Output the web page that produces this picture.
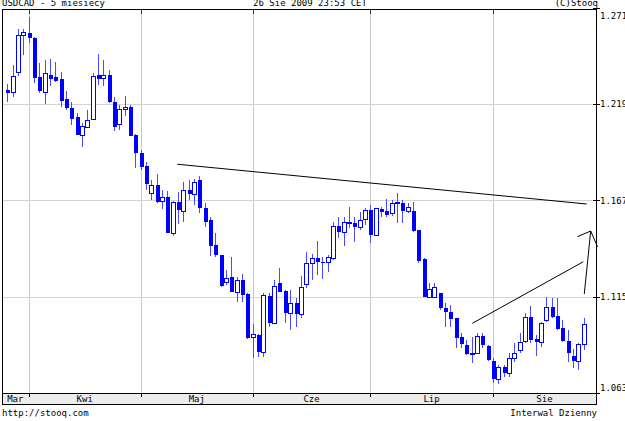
<!DOCTYPE html>
<html>
<head>
<meta charset="utf-8">
<script src="https://cdn.jsdelivr.net/npm/d3@7"></script>
<style>
  html, body { margin: 0; padding: 0; background: #fff; }
  svg { display: block; font-family: 'DejaVu Sans Mono', monospace; }
</style>
</head>
<body>
<div id="chart"></div>
<script>
// trading days, one list per month (2009)
const marDays = [26, 27, 30, 31];
const aprDays = [1, 2, 3, 6, 7, 8, 9, 13, 14, 15, 16, 17, 20, 21, 22, 23, 24, 27, 28, 29, 30];
const mayDays = [1, 4, 5, 6, 7, 8, 11, 12, 13, 14, 15, 18, 19, 20, 21, 22, 25, 26, 27, 28, 29];
const junDays = [1, 2, 3, 4, 5, 8, 9, 10, 11, 12, 15, 16, 17, 18, 19, 22, 23, 24, 25, 26, 29, 30];
const julDays = [1, 2, 3, 6, 7, 8, 9, 10, 13, 14, 15, 16, 17, 20, 21, 22, 23, 24, 27, 28, 29, 30, 31];
const augDays = [3, 4, 5, 6, 7, 10, 11, 12, 13, 14, 17, 18, 19, 20, 21, 24, 25, 26];

const monthLabels = ['Mar', 'Kwi', 'Maj', 'Cze', 'Lip', 'Sie'];
const yTicks = [1.063, 1.115, 1.167, 1.219, 1.271];

const openValues = [
  1.2268, 1.2257, 1.2366, 1.2563, 1.2577, 1.2549, 1.2338, 1.2255, 1.2350, 1.2338,
  1.2327, 1.2219, 1.2170, 1.2120, 1.2026, 1.2069, 1.2109, 1.2347, 1.2331, 1.2347,
  1.2203, 1.2082, 1.2163, 1.2177, 1.2023, 1.1925, 1.1857, 1.1712, 1.1754, 1.1669,
  1.1688, 1.1493, 1.1664, 1.1615, 1.1727, 1.1704, 1.1781, 1.1631, 1.1565, 1.1430,
  1.1376, 1.1228, 1.1255, 1.1177, 1.1241, 1.1165, 1.0931, 1.0943, 1.0853, 1.1156,
  1.1010, 1.1223, 1.1181, 1.1061, 1.1115, 1.1055, 1.1219, 1.1331, 1.1358, 1.1339,
  1.1336, 1.1358, 1.1534, 1.1502, 1.1550, 1.1550, 1.1525, 1.1569, 1.1619, 1.1484,
  1.1624, 1.1615, 1.1601, 1.1655, 1.1658, 1.1615, 1.1615, 1.1511, 1.1352, 1.1150,
  1.1150, 1.1169, 1.1088, 1.1069, 1.1034, 1.0934, 1.0889, 1.0842, 1.0844, 1.0938,
  1.0884, 1.0804, 1.0704, 1.0772, 1.0739, 1.0817, 1.0862, 1.0912, 1.1042, 1.0920,
  1.0907, 1.1024, 1.1096, 1.1046, 1.0979, 1.0912, 1.0831, 1.0804, 1.0895
];
const highValues = [
  1.2300, 1.2403, 1.2597, 1.2597, 1.2661, 1.2554, 1.2414, 1.2430, 1.2435, 1.2421,
  1.2366, 1.2264, 1.2204, 1.2145, 1.2091, 1.2159, 1.2359, 1.2462, 1.2430, 1.2376,
  1.2231, 1.2186, 1.2235, 1.2184, 1.2027, 1.1943, 1.1878, 1.1781, 1.1814, 1.1727,
  1.1723, 1.1670, 1.1718, 1.1769, 1.1781, 1.1785, 1.1804, 1.1655, 1.1583, 1.1493,
  1.1378, 1.1295, 1.1366, 1.1258, 1.1273, 1.1170, 1.1003, 1.0946, 1.1169, 1.1169,
  1.1241, 1.1304, 1.1186, 1.1186, 1.1142, 1.1262, 1.1389, 1.1381, 1.1453, 1.1366,
  1.1376, 1.1556, 1.1579, 1.1579, 1.1637, 1.1583, 1.1610, 1.1628, 1.1646, 1.1632,
  1.1637, 1.1677, 1.1673, 1.1712, 1.1673, 1.1658, 1.1664, 1.1513, 1.1358, 1.1223,
  1.1223, 1.1172, 1.1115, 1.1105, 1.1035, 1.0952, 1.0916, 1.0934, 1.0956, 1.0952,
  1.0889, 1.0817, 1.0781, 1.0781, 1.0844, 1.0902, 1.0956, 1.1064, 1.1100, 1.0943,
  1.1015, 1.1147, 1.1142, 1.1142, 1.1024, 1.0970, 1.0866, 1.0898, 1.1034
];
const lowValues = [
  1.2204, 1.2231, 1.2343, 1.2457, 1.2520, 1.2304, 1.2250, 1.2192, 1.2291, 1.2313,
  1.2177, 1.2159, 1.2078, 1.2022, 1.1961, 1.2065, 1.2103, 1.2295, 1.2289, 1.2197,
  1.2047, 1.2051, 1.2127, 1.2016, 1.1846, 1.1835, 1.1727, 1.1673, 1.1659, 1.1623,
  1.1492, 1.1480, 1.1543, 1.1556, 1.1673, 1.1646, 1.1604, 1.1525, 1.1370, 1.1366,
  1.1204, 1.1214, 1.1173, 1.1120, 1.1123, 1.0922, 1.0817, 1.0826, 1.0826, 1.0988,
  1.1005, 1.1173, 1.1010, 1.0970, 1.0988, 1.1034, 1.1196, 1.1241, 1.1268, 1.1244,
  1.1285, 1.1349, 1.1466, 1.1424, 1.1520, 1.1448, 1.1511, 1.1538, 1.1442, 1.1478,
  1.1583, 1.1583, 1.1586, 1.1550, 1.1550, 1.1601, 1.1502, 1.1334, 1.1147, 1.1142,
  1.1142, 1.1078, 1.0988, 1.0988, 1.0871, 1.0871, 1.0835, 1.0790, 1.0840, 1.0871,
  1.0804, 1.0685, 1.0678, 1.0718, 1.0715, 1.0799, 1.0848, 1.0902, 1.0898, 1.0830,
  1.0880, 1.1015, 1.1034, 1.0970, 1.0907, 1.0799, 1.0763, 1.0754, 1.0862
];
const closeValues = [
  1.2253, 1.2343, 1.2565, 1.2579, 1.2547, 1.2334, 1.2261, 1.2358, 1.2327, 1.2318,
  1.2210, 1.2172, 1.2109, 1.2026, 1.2073, 1.2105, 1.2343, 1.2325, 1.2347, 1.2203,
  1.2069, 1.2165, 1.2174, 1.2020, 1.1925, 1.1853, 1.1759, 1.1754, 1.1664, 1.1688,
  1.1496, 1.1664, 1.1619, 1.1727, 1.1704, 1.1769, 1.1628, 1.1556, 1.1426, 1.1376,
  1.1208, 1.1250, 1.1177, 1.1241, 1.1159, 1.0925, 1.0947, 1.0850, 1.1159, 1.1010,
  1.1208, 1.1177, 1.1061, 1.1115, 1.1055, 1.1204, 1.1331, 1.1358, 1.1336, 1.1331,
  1.1363, 1.1534, 1.1502, 1.1556, 1.1556, 1.1529, 1.1565, 1.1619, 1.1484, 1.1628,
  1.1606, 1.1592, 1.1655, 1.1664, 1.1615, 1.1634, 1.1507, 1.1343, 1.1150, 1.1190,
  1.1201, 1.1088, 1.1069, 1.1028, 1.0925, 1.0895, 1.0840, 1.0848, 1.0938, 1.0889,
  1.0808, 1.0704, 1.0772, 1.0739, 1.0817, 1.0848, 1.0907, 1.1042, 1.0916, 1.0907,
  1.1006, 1.1093, 1.1042, 1.0974, 1.0912, 1.0844, 1.0804, 1.0895, 1.1001
];

// hand-drawn lines on the chart: [candle index, price]
const trendLines = [
  [[31.85, 1.1866], [108.56, 1.1651]],
  [[87.13, 1.1006], [107.93, 1.1339]],
  [[108.11, 1.1165], [109.31, 1.1505]],
  [[106.8, 1.1474], [109.31, 1.1505], [110.6, 1.1420]]
];

const monthDays = [marDays, aprDays, mayDays, junDays, julDays, augDays];
const dates = monthDays.flatMap((days, m) =>
  days.map((d) => `2009-${String(m + 3).padStart(2, '0')}-${String(d).padStart(2, '0')}`)
);
const candles = dates.map((date, i) => ({
  date,
  open: openValues[i],
  high: highValues[i],
  low: lowValues[i],
  close: closeValues[i],
}));

const width = 625;
const height = 421;
const plot = { left: 2, right: 596, top: 9.5, bottom: 393.5 };
const blue = '#0000ff';

const svg = d3
  .select('#chart')
  .append('svg')
  .attr('width', width)
  .attr('height', height)
  .style('font-size', '9px');

const x = d3
  .scalePoint()
  .domain(dates)
  .range([7.3, 583.7]);

const xi = d3
  .scaleLinear()
  .domain([0, dates.length - 1])
  .range([7.3, 583.7]);

const y = d3
  .scaleLinear()
  .domain([1.063, 1.271])
  .range([392.9, 8.1]);

// month starts
const monthStarts = monthDays.map((days, m) =>
  dates.find((d) => d.startsWith(`2009-${String(m + 3).padStart(2, '0')}`))
);

const grid = svg.append('g').attr('shape-rendering', 'crispEdges');

grid
  .selectAll('line.v')
  .data(monthStarts.slice(1))
  .join('line')
  .attr('class', 'v')
  .attr('x1', (d) => Math.round(x(d)) + 0.5)
  .attr('x2', (d) => Math.round(x(d)) + 0.5)
  .attr('y1', plot.top)
  .attr('y2', plot.bottom)
  .attr('stroke', '#c8c8c8');

grid
  .selectAll('line.h')
  .data(yTicks.slice(1, -1))
  .join('line')
  .attr('class', 'h')
  .attr('x1', plot.left)
  .attr('x2', plot.right)
  .attr('y1', (d) => Math.round(y(d)) + 0.5)
  .attr('y2', (d) => Math.round(y(d)) + 0.5)
  .attr('stroke', '#d4d4d4');

// short dark marks at top and bottom of month lines
grid
  .selectAll('line.tt')
  .data(monthStarts.slice(1))
  .join('line')
  .attr('class', 'tt')
  .attr('x1', (d) => Math.round(x(d)) + 0.5)
  .attr('x2', (d) => Math.round(x(d)) + 0.5)
  .attr('y1', plot.top)
  .attr('y2', plot.top + 4)
  .attr('stroke', '#333');

// candles
const candleG = svg.append('g').attr('shape-rendering', 'crispEdges');

candleG
  .selectAll('line')
  .data(candles)
  .join('line')
  .attr('x1', (d) => Math.round(x(d.date)) + 0.5)
  .attr('x2', (d) => Math.round(x(d.date)) + 0.5)
  .attr('y1', (d) => y(d.high))
  .attr('y2', (d) => y(d.low))
  .attr('stroke', '#4a4aff');

candleG
  .selectAll('rect.down')
  .data(candles.filter((d) => d.close < d.open))
  .join('rect')
  .attr('class', 'down')
  .attr('x', (d) => Math.round(x(d.date)) - 1.5)
  .attr('y', (d) => y(d.open))
  .attr('width', 4)
  .attr('height', (d) => Math.max(1, y(d.close) - y(d.open)))
  .attr('fill', blue);

candleG
  .selectAll('rect.up')
  .data(candles.filter((d) => d.close >= d.open))
  .join('rect')
  .attr('class', 'up')
  .attr('x', (d) => Math.round(x(d.date)) - 1.5)
  .attr('y', (d) => Math.round(y(d.close)) + 0.5)
  .attr('width', 4)
  .attr('height', (d) => Math.max(1, Math.round(y(d.open)) - Math.round(y(d.close))))
  .attr('fill', '#fff')
  .attr('stroke', blue);

// trend lines
const lineGen = d3
  .line()
  .x((p) => xi(p[0]))
  .y((p) => y(p[1]));

svg
  .append('g')
  .selectAll('path')
  .data(trendLines)
  .join('path')
  .attr('d', lineGen)
  .attr('fill', 'none')
  .attr('stroke', '#000')
  .attr('stroke-width', 1);

// frame
svg
  .append('rect')
  .attr('x', plot.left + 0.5)
  .attr('y', plot.top)
  .attr('width', plot.right - plot.left)
  .attr('height', plot.bottom - plot.top)
  .attr('fill', 'none')
  .attr('stroke', '#000')
  .attr('shape-rendering', 'crispEdges');

// right axis
const yAxis = svg.append('g').attr('shape-rendering', 'crispEdges');

yAxis
  .selectAll('line')
  .data(yTicks)
  .join('line')
  .attr('x1', plot.right - 3)
  .attr('x2', plot.right + 4)
  .attr('y1', (d) => Math.round(y(d)) + 0.5)
  .attr('y2', (d) => Math.round(y(d)) + 0.5)
  .attr('stroke', '#000');

yAxis
  .selectAll('text')
  .data(yTicks)
  .join('text')
  .attr('x', 600)
  .attr('y', (d) => Math.min(plot.bottom - 6, Math.max(plot.top + 6, y(d))))
  .attr('dy', '0.35em')
  .attr('fill', '#000')
  .text((d) => d3.format('.3f')(d));

// month band
const band = svg.append('g').attr('shape-rendering', 'crispEdges');

band
  .append('rect')
  .attr('x', plot.left + 0.5)
  .attr('y', plot.bottom)
  .attr('width', plot.right - plot.left)
  .attr('height', 10.5)
  .attr('fill', '#ececec')
  .attr('stroke', '#000');

band
  .selectAll('line')
  .data(monthStarts.slice(1))
  .join('line')
  .attr('x1', (d) => Math.round(x(d)) + 0.5)
  .attr('x2', (d) => Math.round(x(d)) + 0.5)
  .attr('y1', plot.bottom)
  .attr('y2', plot.bottom + 3)
  .attr('stroke', '#000');

const bounds = [plot.left, ...monthStarts.slice(1).map((d) => x(d)), plot.right];

band
  .selectAll('text')
  .data(monthLabels)
  .join('text')
  .attr('x', (d, i) => (bounds[i] + bounds[i + 1]) / 2)
  .attr('y', plot.bottom + 5.5)
  .attr('dy', '0.35em')
  .attr('text-anchor', 'middle')
  .attr('fill', '#000')
  .text((d) => d);

// header and footer texts
svg.append('text').attr('x', 2).attr('y', 6).text('USDCAD - 5 miesiecy');
svg.append('text').attr('x', 310).attr('y', 6).attr('text-anchor', 'middle').text('26 Sie 2009 23:53 CET');
svg.append('text').attr('x', 598).attr('y', 6).attr('text-anchor', 'end').text('(C)Stooq');
svg.append('text').attr('x', 2).attr('y', 416).text('http://stooq.com');
svg.append('text').attr('x', 597).attr('y', 416).attr('text-anchor', 'end').text('Interwal Dzienny');
</script>
</body>
</html>
